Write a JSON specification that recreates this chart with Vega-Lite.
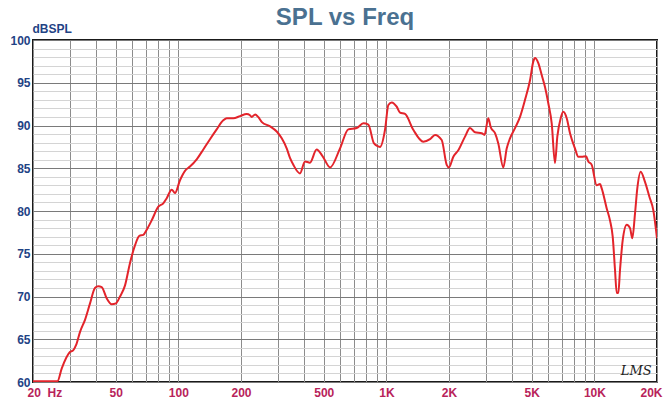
{
  "$schema": "https://vega.github.io/schema/vega-lite/v6.json",
  "width": 624,
  "height": 342,
  "autosize": {"type": "none"},
  "padding": {"left": 33, "top": 40, "right": 6, "bottom": 21},
  "background": "white",
  "title": {
    "text": "SPL vs Freq",
    "font": "Liberation Sans",
    "fontSize": 24,
    "fontWeight": "bold",
    "color": "#4a7191",
    "anchor": "middle",
    "offset": 0,
    "dy": 8
  },
  "config": {
    "view": {"stroke": "#1a1a1a", "strokeWidth": 2},
    "axis": {"domain": false}
  },
  "encoding": {
    "x": {
      "field": "f",
      "type": "quantitative",
      "scale": {"type": "log", "domain": [20, 20000], "nice": false},
      "axis": {
        "values": [20, 30, 40, 50, 60, 70, 80, 90, 100, 200, 300, 400, 500, 600, 700, 800, 900, 1000, 2000, 3000, 4000, 5000, 6000, 7000, 8000, 9000, 10000, 20000],
        "labelExpr": "datum.value == 20 ? '20\u00a0\u00a0Hz' : (datum.value == 50 || datum.value == 100 || datum.value == 200 || datum.value == 500) ? '' + datum.value : datum.value == 1000 ? '1K' : datum.value == 2000 ? '2K' : datum.value == 5000 ? '5K' : datum.value == 10000 ? '10K' : datum.value == 20000 ? '20K' : ''",
        "title": null,
        "ticks": false,
        "labelPadding": 5,
        "labelFont": "Liberation Sans",
        "labelFontSize": 12,
        "labelFontWeight": "bold",
        "labelColor": "#b8235a",
        "labelOverlap": false,
        "labelBound": false,
        "labelFlush": false,
        "labelAlign": {"condition": [{"test": "datum.value == 20", "value": "left"}, {"test": "datum.value == 20000", "value": "right"}], "value": "center"},
        "labelOffset": {"condition": [{"test": "datum.value == 20", "value": -6}, {"test": "datum.value == 20000", "value": 5}], "value": 0},
        "grid": true,
        "gridColor": "#8c8c8c",
        "gridWidth": 1
      }
    },
    "y": {
      "field": "db",
      "type": "quantitative",
      "scale": {"domain": [60, 100], "zero": false, "nice": false},
      "axis": {
        "values": [60, 61, 62, 63, 64, 65, 66, 67, 68, 69, 70, 71, 72, 73, 74, 75, 76, 77, 78, 79, 80, 81, 82, 83, 84, 85, 86, 87, 88, 89, 90, 91, 92, 93, 94, 95, 96, 97, 98, 99, 100],
        "labelExpr": "datum.value % 5 === 0 ? datum.label : ''",
        "title": "dBSPL",
        "titleAngle": 0,
        "titleX": -1,
        "titleY": -5,
        "titleAlign": "left",
        "titleBaseline": "bottom",
        "titleFont": "Liberation Sans",
        "titleFontSize": 12,
        "titleFontWeight": "bold",
        "titleColor": "#1f4385",
        "ticks": false,
        "labelPadding": 3,
        "labelFont": "Liberation Sans",
        "labelFontSize": 12,
        "labelFontWeight": "bold",
        "labelColor": "#1f4385",
        "labelOverlap": false,
        "labelBound": false,
        "labelFlush": false,
        "grid": true,
        "gridColor": {"condition": {"test": "datum.value % 5 === 0", "value": "#7a7a7a"}, "value": "#d4d4d4"},
        "gridWidth": 1
      }
    }
  },
  "layer": [
    {
      "data": {
        "values": [
          {"f": 20, "db": 60.1}, {"f": 26.2, "db": 60.1}, {"f": 27.5, "db": 61.6}, {"f": 30.1, "db": 63.5},
          {"f": 31.2, "db": 63.7}, {"f": 32.2, "db": 64.3}, {"f": 33.7, "db": 65.9}, {"f": 35.6, "db": 67.3},
          {"f": 37.6, "db": 69.2}, {"f": 39.7, "db": 71.0}, {"f": 41.2, "db": 71.2}, {"f": 42.8, "db": 71.1},
          {"f": 45.2, "db": 69.8}, {"f": 47.8, "db": 69.1}, {"f": 50.1, "db": 69.2}, {"f": 52.4, "db": 70.0},
          {"f": 55.4, "db": 71.3}, {"f": 58.5, "db": 73.9}, {"f": 61.9, "db": 76.0}, {"f": 64.9, "db": 77.1},
          {"f": 67.8, "db": 77.2}, {"f": 70.4, "db": 77.8}, {"f": 74.4, "db": 78.9}, {"f": 80.1, "db": 80.5},
          {"f": 84.6, "db": 80.9}, {"f": 87.9, "db": 81.5}, {"f": 92.9, "db": 82.5}, {"f": 96.3, "db": 82.1},
          {"f": 101.8, "db": 83.6}, {"f": 107.6, "db": 84.7}, {"f": 113.7, "db": 85.2}, {"f": 122.5, "db": 86.05},
          {"f": 131.8, "db": 87.2}, {"f": 141.9, "db": 88.4}, {"f": 152.8, "db": 89.55}, {"f": 164.4, "db": 90.6},
          {"f": 170.8, "db": 90.85}, {"f": 183.7, "db": 90.85}, {"f": 197.8, "db": 91.1}, {"f": 213, "db": 91.35},
          {"f": 221, "db": 91.2}, {"f": 225, "db": 91.0}, {"f": 234, "db": 91.3}, {"f": 242, "db": 91.0},
          {"f": 252, "db": 90.4}, {"f": 276, "db": 89.9}, {"f": 297, "db": 89.3}, {"f": 314, "db": 88.5},
          {"f": 332, "db": 87.3}, {"f": 344, "db": 86.2}, {"f": 357, "db": 85.4}, {"f": 384, "db": 84.4},
          {"f": 406, "db": 85.8}, {"f": 429, "db": 85.65}, {"f": 462, "db": 87.2}, {"f": 494, "db": 86.4},
          {"f": 536, "db": 85.1}, {"f": 598, "db": 87.3}, {"f": 656, "db": 89.55}, {"f": 720, "db": 89.7},
          {"f": 775, "db": 90.25}, {"f": 819, "db": 90.1}, {"f": 872, "db": 87.9}, {"f": 932, "db": 87.5},
          {"f": 985, "db": 89.5}, {"f": 1022, "db": 92.4}, {"f": 1061, "db": 92.7}, {"f": 1121, "db": 92.2},
          {"f": 1163, "db": 91.5}, {"f": 1229, "db": 91.35}, {"f": 1347, "db": 89.5}, {"f": 1504, "db": 88.1},
          {"f": 1621, "db": 88.4}, {"f": 1713, "db": 88.9}, {"f": 1845, "db": 88.3}, {"f": 1950, "db": 85.4},
          {"f": 2000, "db": 85.1}, {"f": 2098, "db": 86.35}, {"f": 2217, "db": 87.1}, {"f": 2388, "db": 88.7},
          {"f": 2524, "db": 89.7}, {"f": 2667, "db": 89.2}, {"f": 2873, "db": 89.1}, {"f": 2964, "db": 88.9},
          {"f": 3090, "db": 90.85}, {"f": 3173, "db": 89.8}, {"f": 3329, "db": 89.1}, {"f": 3452, "db": 87.9},
          {"f": 3649, "db": 85.1}, {"f": 3788, "db": 87.3}, {"f": 3930, "db": 88.5}, {"f": 4154, "db": 89.7},
          {"f": 4390, "db": 91.0}, {"f": 4640, "db": 93.0}, {"f": 4904, "db": 95.3}, {"f": 5087, "db": 97.5},
          {"f": 5184, "db": 97.9}, {"f": 5377, "db": 97.3}, {"f": 5582, "db": 95.9}, {"f": 5788, "db": 94.5},
          {"f": 6004, "db": 92.6}, {"f": 6235, "db": 90.25}, {"f": 6466, "db": 85.6}, {"f": 6634, "db": 88.7},
          {"f": 6887, "db": 90.85}, {"f": 7088, "db": 91.6}, {"f": 7362, "db": 90.85}, {"f": 7635, "db": 89.1},
          {"f": 8070, "db": 87.3}, {"f": 8368, "db": 86.35}, {"f": 8690, "db": 86.35}, {"f": 9114, "db": 86.4},
          {"f": 9348, "db": 85.8}, {"f": 9708, "db": 85.4}, {"f": 10260, "db": 83.0}, {"f": 10642, "db": 83.15},
          {"f": 10844, "db": 82.65}, {"f": 11462, "db": 80.3}, {"f": 11886, "db": 78.9}, {"f": 12248, "db": 77.0},
          {"f": 12566, "db": 73.1}, {"f": 12806, "db": 70.4}, {"f": 13032, "db": 70.4}, {"f": 13280, "db": 73.1},
          {"f": 13684, "db": 76.6}, {"f": 14304, "db": 78.4}, {"f": 14838, "db": 78.0}, {"f": 15216, "db": 76.8},
          {"f": 15678, "db": 79.7}, {"f": 16082, "db": 82.65}, {"f": 16698, "db": 84.6}, {"f": 17512, "db": 83.4},
          {"f": 18368, "db": 81.7}, {"f": 19198, "db": 80.1}, {"f": 20000, "db": 76.8}
        ]
      },
      "mark": {"type": "line", "color": "#e3242b", "strokeWidth": 2, "interpolate": "monotone", "clip": true}
    },
    {
      "data": {"values": [{"f": 15900, "db": 61.3, "t": "LMS"}]},
      "mark": {"type": "text", "font": "DejaVu Serif", "fontStyle": "italic", "fontSize": 13, "color": "#222222"},
      "encoding": {
        "text": {"field": "t", "type": "nominal"}
      }
    }
  ]
}
